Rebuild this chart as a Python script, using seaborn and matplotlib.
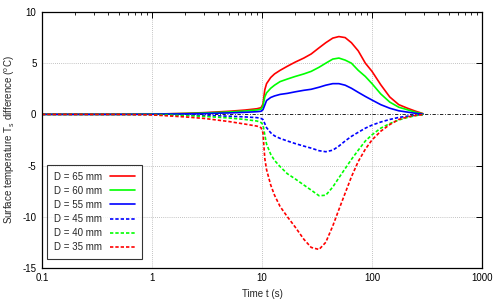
import numpy as np
import pandas as pd
import matplotlib
matplotlib.use('Agg')
import matplotlib.pyplot as plt
import seaborn as sns
from matplotlib.ticker import FixedLocator, LogLocator, NullFormatter

sns.set_theme(style='white')
plt.rcParams['font.family'] = ['Liberation Sans', 'DejaVu Sans']
plt.rcParams['mathtext.fontset'] = 'custom'
plt.rcParams['mathtext.rm'] = 'Liberation Sans'
plt.rcParams['mathtext.it'] = 'Liberation Sans'

# time samples (s)
t = [0.1, 0.5, 1, 2, 3, 5, 7, 9, 9.8, 10.2, 10.6, 11, 12, 13, 14.6, 17, 20, 24,
     28, 33, 38, 44, 50, 57, 65, 75, 87, 100, 120, 145, 175, 210, 250, 290]

d65 = [0, 0, 0.02, 0.1, 0.17, 0.3, 0.42, 0.55, 0.65, 1.0, 2.4, 3.0, 3.6, 3.95, 4.3, 4.7, 5.1, 5.5,
       5.9, 6.5, 7.0, 7.45, 7.6, 7.5, 7.0, 6.2, 5.0, 4.2, 2.9, 1.7, 0.95, 0.6, 0.3, 0.08]
d60 = [0, 0, 0.02, 0.08, 0.13, 0.23, 0.33, 0.43, 0.5, 0.8, 1.7, 2.1, 2.55, 2.85, 3.2, 3.45, 3.7, 3.95,
       4.2, 4.6, 5.0, 5.4, 5.5, 5.3, 5.0, 4.3, 3.7, 3.0, 2.0, 1.2, 0.7, 0.45, 0.2, 0.05]
d55 = [0, 0, 0.01, 0.05, 0.08, 0.14, 0.2, 0.26, 0.3, 0.45, 0.9, 1.35, 1.65, 1.8, 1.95, 2.05, 2.2, 2.35,
       2.45, 2.65, 2.85, 3.0, 3.0, 2.85, 2.55, 2.15, 1.75, 1.4, 0.95, 0.6, 0.35, 0.22, 0.1, 0.02]
d45 = [0, 0, -0.01, -0.06, -0.1, -0.18, -0.25, -0.32, -0.4, -0.5, -0.9, -1.3, -1.8, -2.1, -2.35, -2.6, -2.85, -3.1,
       -3.3, -3.55, -3.65, -3.5, -3.1, -2.6, -2.15, -1.75, -1.35, -1.05, -0.75, -0.5, -0.3, -0.18, -0.08, -0.02]
d40 = [0, 0, -0.02, -0.12, -0.2, -0.35, -0.5, -0.65, -0.8, -1.0, -2.0, -2.9, -3.9, -4.5, -5.1, -5.8, -6.3, -6.9,
       -7.4, -7.95, -7.9, -7.1, -6.2, -5.3, -4.4, -3.5, -2.6, -2.0, -1.35, -0.9, -0.55, -0.3, -0.12, -0.03]
d35 = [0, 0, -0.05, -0.25, -0.4, -0.7, -0.95, -1.15, -1.3, -1.8, -4.3, -5.4, -6.9, -7.9, -9.0, -10.0, -11.0, -12.2,
       -13.0, -13.2, -12.5, -10.9, -9.3, -7.7, -6.1, -4.6, -3.4, -2.5, -1.65, -1.0, -0.5, -0.25, -0.1, -0.02]

labels = ['D = 65 mm', 'D = 60 mm', 'D = 55 mm', 'D = 45 mm', 'D = 40 mm', 'D = 35 mm']
series = [d65, d60, d55, d45, d40, d35]
colors = ['#ff0000', '#00ff00', '#0000ff', '#0000ff', '#00ff00', '#ff0000']
solid = [True, True, True, False, False, False]

fig = plt.figure(figsize=(5, 3), dpi=100)
ax = fig.add_axes([0.084, 0.107, 0.88, 0.853])

ax.set_xscale('log')
ax.set_xlim(0.1, 1000)
ax.set_ylim(-15, 10)

# grid + zero axis
for gx in [1, 10, 100]:
    ax.axvline(gx, color='#b0b0b0', lw=0.6, ls=(0, (1, 1.5)), zorder=0)
for gy in [5, -5, -10]:
    ax.axhline(gy, color='#b0b0b0', lw=0.6, ls=(0, (1, 1.5)), zorder=0)
ax.axhline(0, color='black', lw=0.6, ls=(0, (4, 2, 1, 2)), zorder=1)

for lab, vals, c, s in zip(labels, series, colors, solid):
    ls = '-' if s else (0, (2, 1.2))
    sns.lineplot(x=t, y=vals, color=c, lw=1.2, linestyle=ls, ax=ax, label=lab)

ax.xaxis.set_major_locator(FixedLocator([0.1, 1, 10, 100, 1000]))
ax.set_xticklabels(['0.1', '1', '10', '100', '1000'])
ax.xaxis.set_minor_locator(LogLocator(base=10, subs=np.arange(2, 10)))
ax.xaxis.set_minor_formatter(NullFormatter())
ax.set_yticks([-15, -10, -5, 0, 5, 10])
ax.set_yticklabels(['-15', '-10', '-5', '0', '5', '10'])

ax.tick_params(which='major', direction='in', length=4.5, width=0.7, top=True, right=True,
               labelsize=7, pad=4, colors='black')
ax.tick_params(which='minor', direction='in', length=2.5, width=0.7, top=True, right=True)
ax.tick_params(axis='y', which='minor', left=False, right=False)

for sp in ax.spines.values():
    sp.set_color('black')
    sp.set_linewidth(0.9)

ax.set_xlabel('Time t (s)', fontsize=7, labelpad=4)
ax.set_ylabel(r'Surface temperature T$_\mathrm{s}$ difference ($^\mathrm{o}$C)', fontsize=7, labelpad=4)

leg = ax.legend(loc='lower left', bbox_to_anchor=(0.011, 0.035), borderaxespad=0,
                fontsize=7, markerfirst=False, handlelength=2.6, labelspacing=0.42,
                handletextpad=0.8, borderpad=0.7, fancybox=False, frameon=True)
leg.get_frame().set_edgecolor('black')
leg.get_frame().set_linewidth(0.8)

fig.savefig('out.png', dpi=100)
